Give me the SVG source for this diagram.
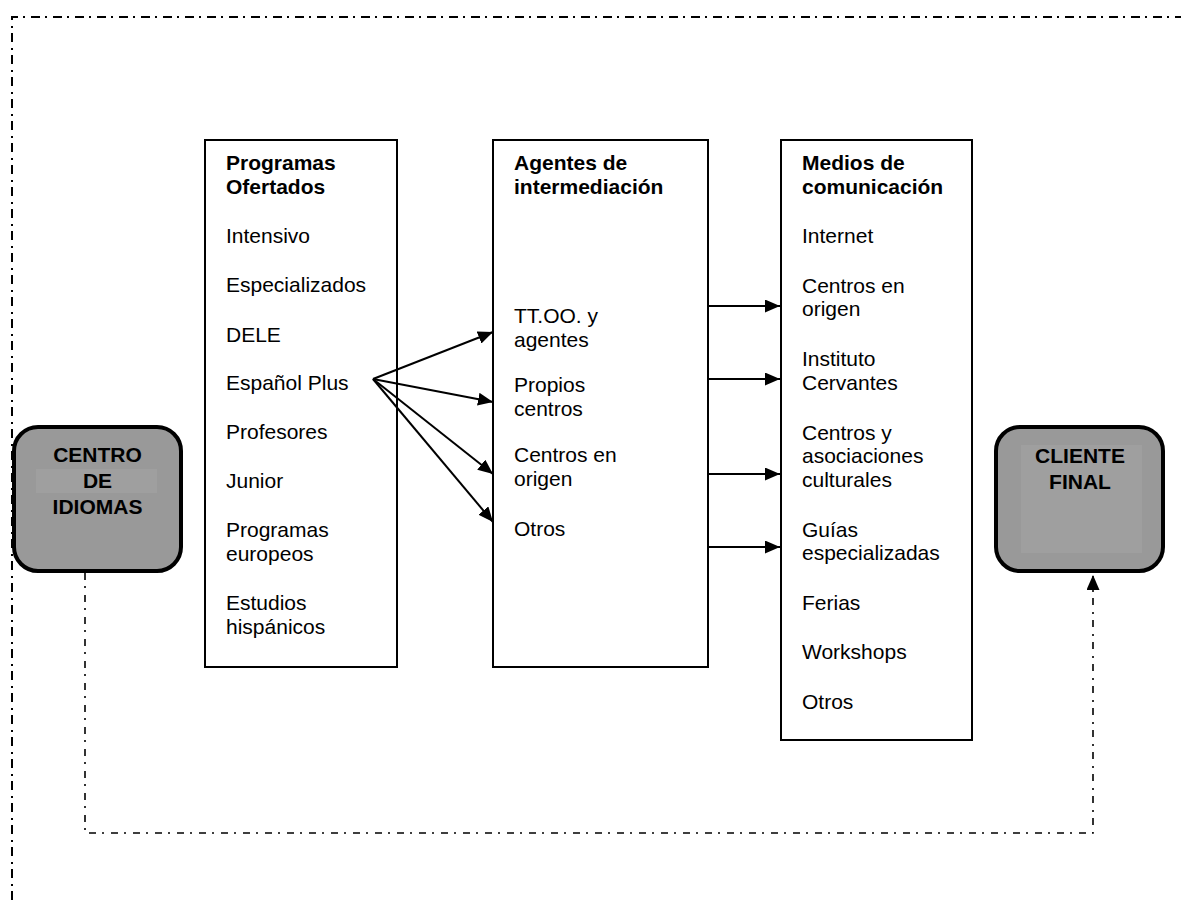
<svg xmlns="http://www.w3.org/2000/svg" width="1181" height="900" viewBox="0 0 1181 900">
  <style>
    text { font-family: "Liberation Sans", Arial, sans-serif; font-size: 21px; fill: #000; }
    .title { font-weight: bold; }
    .label { font-weight: bold; text-anchor: middle; }
    .col { fill: #fff; stroke: #000; stroke-width: 2; }
    .actor { fill: #999999; stroke: #000; stroke-width: 4; }
    .actor-inner { fill: #9f9f9f; stroke: none; }
    .flow { fill: none; stroke: #000; stroke-width: 2; }
    .frame { fill: none; stroke: #000; stroke-width: 2; stroke-dasharray: 9 5 2 6; }
    .loop { fill: none; stroke: #000; stroke-width: 1.6; stroke-dasharray: 7 6 2 7; }
  </style>
  <defs>
    <marker id="arrow" markerUnits="userSpaceOnUse" markerWidth="15" markerHeight="13" refX="15" refY="6.5" orient="auto">
      <path d="M0,0 L15,6.5 L0,13 z" fill="#000"/>
    </marker>
  </defs>

  <rect width="1181" height="900" fill="#fff"/>

  <!-- dash-dot frame along the top and left edges -->
  <path class="frame" d="M12,900 L12,17 L1181,17"/>

  <g id="centro-idiomas">
    <rect class="actor" x="14" y="427" width="167" height="144" rx="24"/>
    <rect class="actor-inner" x="36" y="469" width="121" height="24"/>
    <text class="label" x="97.5" y="462">CENTRO</text>
    <text class="label" x="97.5" y="488">DE</text>
    <text class="label" x="97.5" y="514">IDIOMAS</text>
  </g>

  <g id="cliente-final">
    <rect class="actor" x="996" y="427" width="167" height="144" rx="24"/>
    <rect class="actor-inner" x="1021" y="445" width="121" height="108"/>
    <text class="label" x="1080" y="463">CLIENTE</text>
    <text class="label" x="1080" y="489">FINAL</text>
  </g>

  <g id="programas">
    <rect class="col" x="205" y="140" width="192" height="527"/>
    <text class="title" x="226" y="170">Programas</text>
    <text class="title" x="226" y="193.5">Ofertados</text>
    <text x="226" y="243">Intensivo</text>
    <text x="226" y="292">Especializados</text>
    <text x="226" y="341.5">DELE</text>
    <text x="226" y="390">Español Plus</text>
    <text x="226" y="439">Profesores</text>
    <text x="226" y="488">Junior</text>
    <text x="226" y="537">Programas</text>
    <text x="226" y="560.5">europeos</text>
    <text x="226" y="610">Estudios</text>
    <text x="226" y="633.5">hispánicos</text>
  </g>

  <g id="agentes">
    <rect class="col" x="493" y="140" width="215" height="527"/>
    <text class="title" x="514" y="170">Agentes de</text>
    <text class="title" x="514" y="193.5">intermediación</text>
    <text x="514" y="323">TT.OO. y</text>
    <text x="514" y="346.5">agentes</text>
    <text x="514" y="392">Propios</text>
    <text x="514" y="415.5">centros</text>
    <text x="514" y="462">Centros en</text>
    <text x="514" y="485.5">origen</text>
    <text x="514" y="536">Otros</text>
  </g>

  <g id="medios">
    <rect class="col" x="781" y="140" width="191" height="600"/>
    <text class="title" x="802" y="170">Medios de</text>
    <text class="title" x="802" y="193.5">comunicación</text>
    <text x="802" y="243">Internet</text>
    <text x="802" y="292.5">Centros en</text>
    <text x="802" y="316">origen</text>
    <text x="802" y="366">Instituto</text>
    <text x="802" y="389.5">Cervantes</text>
    <text x="802" y="439.5">Centros y</text>
    <text x="802" y="463">asociaciones</text>
    <text x="802" y="486.5">culturales</text>
    <text x="802" y="536.5">Guías</text>
    <text x="802" y="560">especializadas</text>
    <text x="802" y="610">Ferias</text>
    <text x="802" y="659">Workshops</text>
    <text x="802" y="708.5">Otros</text>
  </g>

  <!-- feedback loop and arrows between columns, drawn over the boxes -->
  <g id="connectors">
    <path class="loop" d="M85,573 L85,833 L1093,833 L1093,575" marker-end="url(#arrow)"/>
    <line class="flow" x1="373" y1="379" x2="493" y2="332" marker-end="url(#arrow)"/>
    <line class="flow" x1="373" y1="379" x2="493" y2="402" marker-end="url(#arrow)"/>
    <line class="flow" x1="373" y1="379" x2="493" y2="474" marker-end="url(#arrow)"/>
    <line class="flow" x1="373" y1="379" x2="493" y2="522" marker-end="url(#arrow)"/>
    <line class="flow" x1="708" y1="306" x2="780" y2="306" marker-end="url(#arrow)"/>
    <line class="flow" x1="708" y1="379" x2="780" y2="379" marker-end="url(#arrow)"/>
    <line class="flow" x1="708" y1="474" x2="780" y2="474" marker-end="url(#arrow)"/>
    <line class="flow" x1="708" y1="547" x2="780" y2="547" marker-end="url(#arrow)"/>
  </g>
</svg>
